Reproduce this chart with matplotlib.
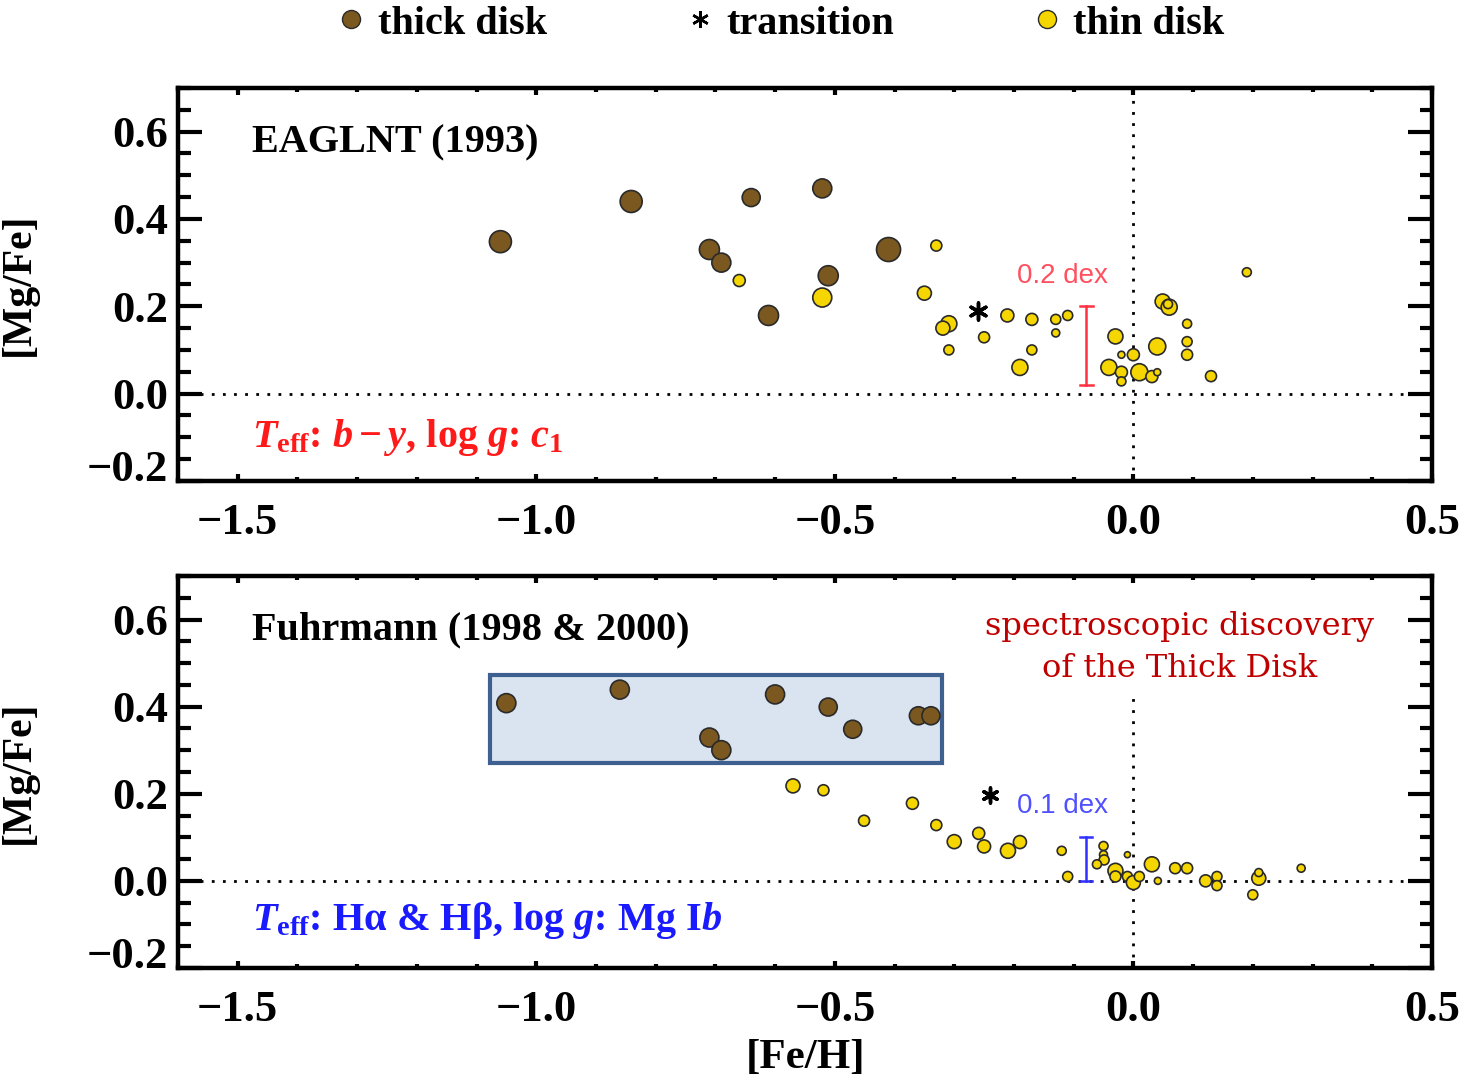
import numpy as np
import matplotlib
matplotlib.use('Agg')
import matplotlib.pyplot as plt
from matplotlib.lines import Line2D
from matplotlib.patches import Rectangle
from matplotlib.transforms import ScaledTranslation

plt.rcParams['font.family'] = ['Liberation Serif', 'DejaVu Serif']
plt.rcParams['font.weight'] = 'bold'
plt.rcParams['mathtext.fontset'] = 'custom'
plt.rcParams['mathtext.rm'] = 'Liberation Serif:bold'
plt.rcParams['mathtext.it'] = 'Liberation Serif:italic:bold'
plt.rcParams['mathtext.bf'] = 'Liberation Serif:bold'
plt.rcParams['axes.unicode_minus'] = True

# --- données panneau du haut (EAGLNT 1993) ---
thick1_x = [-1.060, -0.841, -0.640, -0.521, -0.710, -0.690, -0.511, -0.410, -0.611]
thick1_y = [0.348, 0.440, 0.449, 0.470, 0.330, 0.300, 0.270, 0.330, 0.179]
thick1_d = [22, 22, 18, 19, 20, 19, 20, 24, 20]   # diamètre en px

thin1_x = [-0.521, -0.660, -0.330, -0.350, -0.309, -0.319, -0.309, -0.250, -0.211, -0.170,
           -0.170, -0.190, -0.130, -0.130, -0.110, -0.030, -0.041, -0.020, -0.020, -0.020,
           0.000, 0.010, 0.031, 0.040, 0.040, 0.049, 0.060, 0.058, 0.090, 0.090,
           0.090, 0.130, 0.190]
thin1_y = [0.220, 0.259, 0.339, 0.230, 0.160, 0.150, 0.100, 0.129, 0.179, 0.170,
           0.100, 0.060, 0.170, 0.139, 0.179, 0.131, 0.060, 0.089, 0.049, 0.028,
           0.089, 0.049, 0.039, 0.049, 0.108, 0.211, 0.198, 0.205, 0.160, 0.119,
           0.089, 0.040, 0.278]
thin1_d = [19, 12, 11, 14, 16, 14, 10, 11, 13, 12,
           10, 16, 10, 8, 10, 15, 16, 7, 12, 9,
           12, 17, 12, 7, 17, 15, 16, 9, 9, 10,
           11, 11, 9]
trans1 = (-0.261, 0.190)

# --- données panneau du bas (Fuhrmann 1998 & 2000) ---
thick2_x = [-1.050, -0.860, -0.710, -0.690, -0.600, -0.511, -0.470, -0.360, -0.339]
thick2_y = [0.408, 0.439, 0.329, 0.300, 0.428, 0.399, 0.348, 0.379, 0.379]
thick2_d = [19, 19, 19, 19, 19, 18, 18, 18, 18]

thin2_x = [-0.570, -0.519, -0.451, -0.370, -0.330, -0.300, -0.259, -0.250, -0.210, -0.190,
           -0.120, -0.110, -0.050, -0.050, -0.049, -0.061, -0.030, -0.030, -0.010, -0.010,
           0.000, 0.010, 0.031, 0.041, 0.070, 0.090, 0.121, 0.140, 0.140, 0.200,
           0.210, 0.210, 0.281]
thin2_y = [0.218, 0.208, 0.138, 0.178, 0.128, 0.090, 0.109, 0.079, 0.069, 0.089,
           0.069, 0.010, 0.080, 0.060, 0.048, 0.038, 0.023, 0.010, 0.060, 0.010,
           -0.004, 0.010, 0.038, 0.000, 0.029, 0.029, 0.000, 0.010, -0.011, -0.032,
           0.006, 0.019, 0.029]
thin2_d = [14, 11, 11, 12, 11, 14, 12, 13, 15, 13,
           9, 10, 9, 8, 10, 9, 15, 11, 6, 10,
           14, 10, 15, 7, 11, 11, 12, 10, 10, 10,
           14, 8, 8]
trans2 = (-0.240, 0.197)

BRUN = '#7a5820'
JAUNE = '#f5d600'
BORD = '#2a2a2a'


def taille(d):
    # px -> points^2 pour scatter
    return (np.array(d) * 0.72) ** 2


fig = plt.figure(figsize=(14.67, 10.82), dpi=100)
ax1 = fig.add_axes([0.1213, 0.5555, 0.8548, 0.3632])
ax2 = fig.add_axes([0.1213, 0.1054, 0.8548, 0.3623])


def habillage(ax):
    ax.set_xlim(-1.6, 0.5)
    ax.set_ylim(-0.2, 0.7)
    ax.set_xticks([-1.5, -1.0, -0.5, 0.0, 0.5])
    ax.set_xticklabels(['\u22121.5', '\u22121.0', '\u22120.5', '0.0', '0.5'])
    ax.set_xticks(np.arange(-1.6, 0.51, 0.1), minor=True)
    ax.set_yticks([-0.2, 0.0, 0.2, 0.4, 0.6])
    ax.set_yticklabels(['\u22120.2', '0.0', '0.2', '0.4', '0.6'])
    ax.set_yticks(np.arange(-0.2, 0.701, 0.05), minor=True)
    ax.tick_params(axis='both', which='both', direction='in', top=True, right=True,
                   width=3, labelsize=32)
    ax.tick_params(axis='x', which='major', length=5, pad=16)
    ax.tick_params(axis='x', which='minor', length=3)
    ax.tick_params(axis='y', which='major', length=17, pad=7)
    ax.tick_params(axis='y', which='minor', length=9)
    for s in ax.spines.values():
        s.set_linewidth(3.2)
    # label -0.2 remonté comme sur l'original
    lab = ax.get_yticklabels()[0]
    lab.set_transform(lab.get_transform() + ScaledTranslation(0, 0.15, fig.dpi_scale_trans))
    ax.axhline(0.0, color='black', ls=(0, (1, 3)), lw=2, zorder=1)
    ax.set_ylabel('[Mg/Fe]', fontsize=30, fontweight='bold')
    ax.yaxis.set_label_coords(-0.112, 0.5)


habillage(ax1)
habillage(ax2)

X_TXT = -1.476

# panneau du haut
ax1.axvline(0.0, color='black', ls=(0, (1, 3)), lw=2, zorder=1)
ax1.scatter(thick1_x, thick1_y, s=taille(thick1_d), c=BRUN, edgecolors=BORD, linewidths=1.2, zorder=3)
ax1.scatter(thin1_x, thin1_y, s=taille(thin1_d), c=JAUNE, edgecolors=BORD, linewidths=1.2, zorder=3)
ax1.scatter([trans1[0]], [trans1[1]], s=taille([17]), marker=(6, 2, 0), c='black', linewidths=2.5, zorder=3)
ax1.plot([-0.079, -0.079], [0.02, 0.20], color='#ff3040', lw=1.8)
ax1.plot([-0.090, -0.068], [0.02, 0.02], color='#ff3040', lw=1.8)
ax1.plot([-0.090, -0.068], [0.20, 0.20], color='#ff3040', lw=1.8)
ax1.text(-0.119, 0.27, '0.2 dex', color='#ff5060', fontsize=20, family='Liberation Sans',
         fontweight='normal', ha='center', va='center')
ax1.text(X_TXT, 0.575, 'EAGLNT (1993)', fontsize=29, fontweight='bold', ha='left', va='center')
ax1.text(X_TXT, -0.1, r'$T_{\rm eff}$: $b - y$, log $g$: $c_1$', color='#ff1a1a',
         fontsize=29, fontweight='bold', ha='left', va='center')

# panneau du bas
ax2.plot([0, 0], [-0.2, 0.42], color='black', ls=(0, (1, 3)), lw=2, zorder=1)
ax2.add_patch(Rectangle((-1.077, 0.27), 0.756, 0.202, facecolor='#dae3f0',
                        edgecolor='#3e6090', lw=3, zorder=2))
ax2.scatter(thick2_x, thick2_y, s=taille(thick2_d), c=BRUN, edgecolors=BORD, linewidths=1.2, zorder=3)
ax2.scatter(thin2_x, thin2_y, s=taille(thin2_d), c=JAUNE, edgecolors=BORD, linewidths=1.2, zorder=3)
ax2.scatter([trans2[0]], [trans2[1]], s=taille([15]), marker=(6, 2, 0), c='black', linewidths=2.5, zorder=3)
ax2.plot([-0.080, -0.080], [0.0, 0.10], color='#3030ff', lw=1.8)
ax2.plot([-0.090, -0.070], [0.0, 0.0], color='#3030ff', lw=1.8)
ax2.plot([-0.090, -0.070], [0.10, 0.10], color='#3030ff', lw=1.8)
ax2.text(-0.119, 0.172, '0.1 dex', color='#5050ff', fontsize=20, family='Liberation Sans',
         fontweight='normal', ha='center', va='center')
ax2.text(X_TXT, 0.575, 'Fuhrmann (1998 & 2000)', fontsize=29, fontweight='bold', ha='left', va='center')
ax2.text(X_TXT, -0.09, r'$T_{\rm eff}$: H' + '\u03b1 & H\u03b2' + r', log $g$: Mg I$b$',
         color='#1a1aff', fontsize=29, fontweight='bold', ha='left', va='center')
ax2.text(0.077, 0.535, 'spectroscopic discovery\nof the Thick Disk', color='#c00000',
         fontsize=23, family='DejaVu Serif', fontweight='normal', ha='center', va='center',
         linespacing=1.45)

fig.text(806 / 1467, 1 - 1058 / 1082, '[Fe/H]', fontsize=31, fontweight='bold', ha='center', va='center')

# légende du haut
poignees = [Line2D([], [], ls='none', marker='o', ms=13, mfc=BRUN, mec=BORD),
            Line2D([], [], ls='none', marker=(6, 2, 0), ms=12, mec='black', mew=1.8),
            Line2D([], [], ls='none', marker='o', ms=13, mfc=JAUNE, mec=BORD)]
fig.legend(poignees, ['thick disk', 'transition', 'thin disk'], loc='center', ncol=3,
           bbox_to_anchor=(0.5315, 1 - 24 / 1082), frameon=False, columnspacing=3.4,
           handletextpad=0.25, handlelength=0.8, prop={'size': 29, 'weight': 'bold'})

fig.savefig('out.png', dpi=100)
